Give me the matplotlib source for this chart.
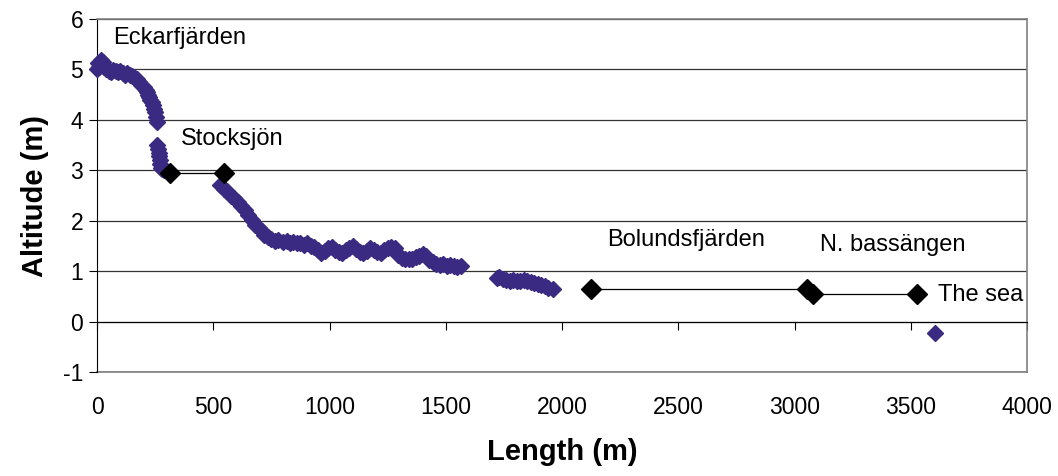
import matplotlib
matplotlib.use("Agg")
import matplotlib.pyplot as plt

plt.rcParams['font.family'] = ['Liberation Sans', 'DejaVu Sans']
plt.rcParams['axes.unicode_minus'] = False

# ---- data: stream profile (purple points) ----
profile_x = [0, 5, 10, 15, 20, 25, 30, 40, 50, 60, 70, 80, 90, 100, 110, 120, 130, 140, 150, 160,
             170, 180, 190, 200, 210, 215, 220, 225, 230, 235, 240, 245, 250, 255, 258,
             258, 262, 265, 268, 270, 272, 275, 280, 290,
             530, 545, 560, 575, 590, 605, 620, 635, 650, 665, 680, 695, 710, 720, 735, 750, 765, 780,
             800, 815, 830, 845, 860, 875, 890, 905, 920, 935, 950, 965, 980, 995, 1010, 1025, 1040,
             1055, 1070, 1085, 1100, 1115, 1130, 1145, 1160, 1175, 1190, 1205, 1220, 1235, 1250, 1265,
             1280, 1295, 1310, 1325, 1340, 1355, 1370, 1385, 1400, 1415, 1430, 1445, 1460, 1475, 1490,
             1505, 1520, 1535, 1550, 1565,
             1720, 1730, 1745, 1760, 1775, 1790, 1805, 1820, 1835, 1850, 1865, 1880, 1895, 1910, 1925,
             1940, 1960,
             3604]
profile_y = [5.0, 5.12, 5.05, 5.18, 5.1, 5.15, 5.05, 5.0, 4.97, 4.95, 4.98, 4.96, 4.94, 4.96, 4.93,
             4.9, 4.92, 4.9, 4.88, 4.86, 4.82, 4.76, 4.7, 4.65, 4.6, 4.55, 4.5, 4.45, 4.4, 4.35, 4.3,
             4.22, 4.15, 4.05, 3.95,
             3.5, 3.42, 3.35, 3.28, 3.2, 3.12, 3.05, 3.02, 3.0,
             2.7, 2.62, 2.58, 2.5, 2.45, 2.38, 2.3, 2.22, 2.12, 2.02, 1.92, 1.85, 1.8, 1.72, 1.68, 1.64,
             1.6, 1.62, 1.58, 1.6, 1.55, 1.58, 1.55, 1.56, 1.52, 1.55, 1.5, 1.48, 1.42, 1.36, 1.4,
             1.45, 1.48, 1.42, 1.38, 1.36, 1.42, 1.46, 1.5, 1.44, 1.38, 1.36, 1.4, 1.45, 1.42, 1.38,
             1.36, 1.42, 1.46, 1.48, 1.45, 1.32, 1.26, 1.24, 1.25, 1.24, 1.28, 1.3, 1.35, 1.3, 1.22,
             1.18, 1.15, 1.12, 1.14, 1.1, 1.12, 1.1, 1.08, 1.1,
             0.86, 0.88, 0.85, 0.82, 0.8, 0.83, 0.81, 0.8, 0.82, 0.8, 0.78, 0.76, 0.74, 0.72, 0.7,
             0.67, 0.65,
             -0.22]

# ---- data: lakes (black diamonds joined by lines) ----
stocksjon_x = [315, 546]
stocksjon_y = [2.95, 2.95]
bolund_x = [2125, 3052]
bolund_y = [0.65, 0.65]
nbass_x = [3080, 3525]
nbass_y = [0.55, 0.55]

# ---- labels ----
label_text = ['Eckarfjärden', 'Stocksjön', 'Bolundsfjärden', 'N. bassängen', 'The sea']
label_x = [69, 361, 2193, 3110, 3617]
label_y = [5.62, 3.62, 1.62, 1.51, 0.53]

x_ticks = [0, 500, 1000, 1500, 2000, 2500, 3000, 3500, 4000]
y_ticks = [-1, 0, 1, 2, 3, 4, 5, 6]

purple = '#3B2A82'

fig = plt.figure(figsize=(10.58, 4.76), dpi=100)
ax = fig.add_axes([0.0917, 0.2185, 0.879, 0.7415])
ax.set_xlim(0, 4000)
ax.set_ylim(-1, 6)

ax.plot(profile_x, profile_y, linestyle='none', marker='D', ms=8.4, color=purple,
        markeredgecolor=purple, zorder=3, clip_on=False)
for xs, ys in [(stocksjon_x, stocksjon_y), (bolund_x, bolund_y), (nbass_x, nbass_y)]:
    ax.plot(xs, ys, color='black', lw=0.9, marker='D', ms=10.5, markerfacecolor='black',
            markeredgecolor='black', zorder=4)

for t, x, y in zip(label_text, label_x, label_y):
    ax.text(x, y, t, fontsize=17, ha='left', va='center', color='black', zorder=5)

ax.set_yticks(y_ticks)
ax.set_xticks(x_ticks)
ax.yaxis.grid(True, color='#333333', lw=0.9)
ax.set_axisbelow(True)

for s in ['top', 'right']:
    ax.spines[s].set_color('#808080')
    ax.spines[s].set_linewidth(1.2)
ax.spines['left'].set_color('black')
ax.spines['bottom'].set_position(('data', 0))
ax.spines['bottom'].set_color('black')

ax.tick_params(axis='y', direction='out', length=6, labelsize=16.5, pad=4, color='black')
ax.tick_params(axis='x', direction='out', length=6, labelbottom=False, color='black')

sec = ax.secondary_xaxis(0)
sec.set_xticks(x_ticks)
sec.tick_params(axis='x', length=0, labelsize=16.5, pad=17)
sec.spines['bottom'].set_color('#808080')
sec.spines['bottom'].set_linewidth(1.2)
sec.set_xlabel('Length (m)', fontsize=21, fontweight='bold', labelpad=14)

ax.set_ylabel('Altitude (m)', fontsize=21, fontweight='bold', labelpad=10)

fig.savefig('out.png', dpi=100)
